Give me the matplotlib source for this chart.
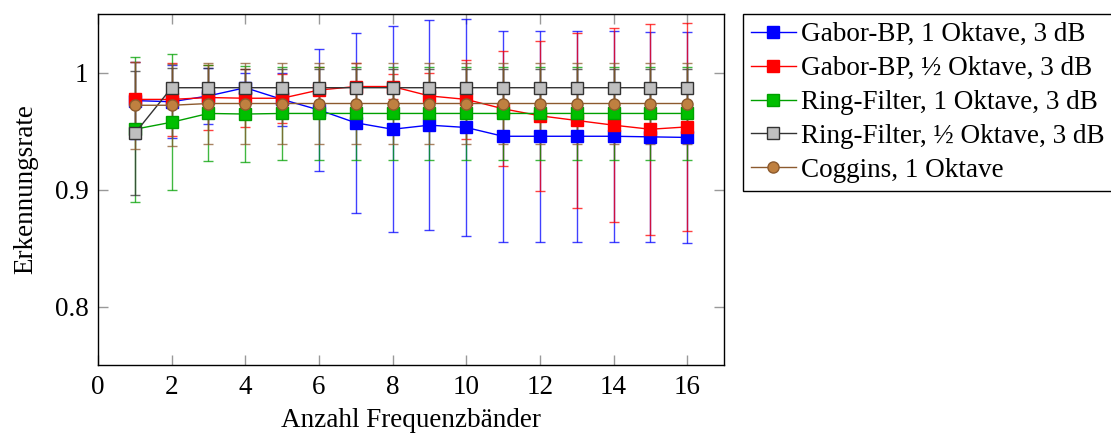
import matplotlib
matplotlib.use("Agg")
import matplotlib.pyplot as plt
from matplotlib.colors import to_rgba

plt.rcParams["font.family"] = ["Liberation Serif", "DejaVu Serif"]
plt.rcParams["font.size"] = 19.5

bands = list(range(1, 17))

gabor_1okt = [0.976, 0.975, 0.980, 0.987, 0.977, 0.968, 0.957, 0.9515, 0.955, 0.953,
              0.9455, 0.9455, 0.9455, 0.9455, 0.945, 0.9445]
gabor_1okt_err = [0.033, 0.031, 0.024, 0.013, 0.023, 0.052, 0.077, 0.088, 0.090, 0.093,
                  0.090, 0.090, 0.090, 0.090, 0.090, 0.090]

gabor_half = [0.977, 0.977, 0.9786, 0.978, 0.978, 0.985, 0.988, 0.988, 0.980, 0.977,
              0.969, 0.963, 0.959, 0.955, 0.9515, 0.9535]
gabor_half_err = [0.032, 0.031, 0.028, 0.025, 0.021, 0.020, 0.020, 0.011, 0.020, 0.034,
                  0.049, 0.064, 0.075, 0.083, 0.090, 0.089]

ring_1okt = [0.9515, 0.9575, 0.965, 0.9645, 0.965, 0.965, 0.965, 0.965, 0.965, 0.965,
             0.965, 0.965, 0.965, 0.965, 0.965, 0.965]
ring_1okt_err = [0.062, 0.058, 0.041, 0.041, 0.040, 0.040, 0.040, 0.040, 0.040, 0.040,
                 0.040, 0.040, 0.040, 0.040, 0.040, 0.040]

ring_half = [0.948, 0.987, 0.987, 0.987, 0.987, 0.987, 0.987, 0.987, 0.987, 0.987,
             0.987, 0.987, 0.987, 0.987, 0.987, 0.987]
ring_half_err = [0.053, 0.017, 0.017, 0.016, 0.016, 0.016, 0.016, 0.016, 0.016, 0.016,
                 0.016, 0.016, 0.016, 0.016, 0.016, 0.016]

coggins = [0.972, 0.972, 0.9735, 0.9735, 0.9735, 0.9735, 0.9735, 0.9735, 0.9735, 0.9735,
           0.9735, 0.9735, 0.9735, 0.9735, 0.9735, 0.9735]
coggins_err = [0.037, 0.035, 0.035, 0.035, 0.035, 0.035, 0.035, 0.035, 0.035, 0.035,
               0.035, 0.035, 0.035, 0.035, 0.035, 0.035]

labels = ["Gabor-BP, 1 Oktave, 3 dB",
          "Gabor-BP, \u00bd Oktave, 3 dB",
          "Ring-Filter, 1 Oktave, 3 dB",
          "Ring-Filter, \u00bd Oktave, 3 dB",
          "Coggins, 1 Oktave"]

series = [
    (gabor_1okt, gabor_1okt_err, dict(color="#0000ff", marker="s", mfc="#0000ff", mec="#0000ff")),
    (gabor_half, gabor_half_err, dict(color="#ff0000", marker="s", mfc="#ff0000", mec="#ff0000")),
    (ring_1okt, ring_1okt_err, dict(color="#00a000", marker="s", mfc="#00bf00", mec="#00a000")),
    (ring_half, ring_half_err, dict(color="#333333", marker="s", mfc="#bfbfbf", mec="#333333")),
    (coggins, coggins_err, dict(color="#8c5a2e", marker="o", mfc="#bf8040", mec="#8c5a2e")),
]

fig = plt.figure(figsize=(11.11, 4.34), dpi=100)
ax = fig.add_axes([98 / 1111, 1 - 365 / 434, (724 - 98) / 1111, (365 - 14) / 434])

handles = []
for (vals, errs, st), lab in zip(series, labels):
    cont = ax.errorbar(bands, vals, yerr=errs, color=st["color"], lw=1.0,
                       marker=st["marker"], ms=8, mfc=st["mfc"], mec=st["mec"], mew=1.0,
                       ecolor=to_rgba(st["color"], 0.75), elinewidth=1.0,
                       capsize=3.6, capthick=1.0, label=lab)
    handles.append(cont)

ax.set_xlim(0, 17)
ax.set_ylim(0.75, 1.05)
ax.set_xticks(range(0, 17, 2))
ax.set_yticks([0.8, 0.9, 1.0])
ax.set_yticklabels(["0.8", "0.9", "1"])
ax.tick_params(direction="in", top=True, right=True, length=7, width=1,
               color="#999999", labelsize=19.5, pad=7)
for sp in ax.spines.values():
    sp.set_color("black")
    sp.set_linewidth(1.0)

ax.set_xlabel("Anzahl Frequenzbänder", fontsize=19.5, labelpad=6)
ax.set_ylabel("Erkennungsrate", fontsize=19.5, labelpad=12)

leg = fig.legend(handles=[h[0] for h in handles], labels=labels,
                 loc="upper left", bbox_to_anchor=(743 / 1111, 1 - 14 / 434),
                 borderaxespad=0, fancybox=False, framealpha=1, edgecolor="black",
                 fontsize=19.5, handlelength=1.65, handletextpad=0.2,
                 labelspacing=0.33, borderpad=0.3)
leg.get_frame().set_linewidth(1.0)

fig.savefig("out.png", dpi=100)
